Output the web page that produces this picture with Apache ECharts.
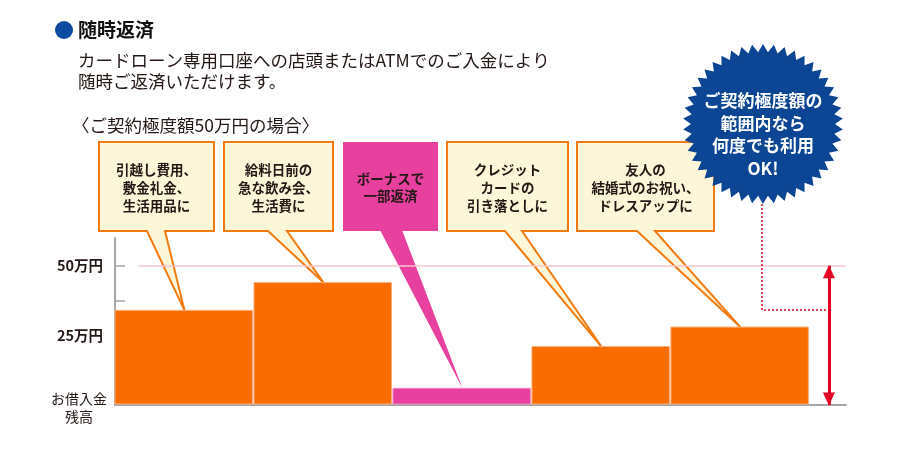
<!DOCTYPE html>
<html>
<head>
<meta charset="utf-8">
<script src="https://cdn.jsdelivr.net/npm/echarts@6/dist/echarts.min.js"></script>
<style>
  html, body { margin: 0; padding: 0; background: #fff; }
  #main { width: 900px; height: 461px; }
</style>
</head>
<body>
<div id="main"></div>
<script>
// データ
const uses = [
  '引越し費用、\n敷金礼金、\n生活用品に',
  '給料日前の\n急な飲み会、\n生活費に',
  'ボーナスで\n一部返済',
  'クレジット\nカードの\n引き落としに',
  '友人の\n結婚式のお祝い、\nドレスアップに'
];
const balances = [34, 44, 6, 21, 28];          // 万円
const kinds = ['borrow', 'borrow', 'repay', 'borrow', 'borrow'];
const limitValue = 50;
const labelValues = [0, 25, 50];
const labelTexts = ['お借入金\n残高', '25万円', '50万円'];
const tickValues = [12.5, 25, 37.5, 50];
const badgeLines = ['ご契約極度額の', '範囲内なら', '何度でも利用', 'OK!'];

const FONT = '"Noto Sans CJK JP", "Noto Sans", sans-serif';
const ORANGE = '#f86c00';
const PINK = '#e8409e';
const DARK = '#231815';

var myChart = echarts.init(document.getElementById('main'));

var option = {
  animation: false,
  grid: { left: 115, right: 54, top: 238, bottom: 56 },
  xAxis: {
    type: 'value', min: 0, max: 5.26,
    axisLine: { show: true, lineStyle: { color: '#a6a6a6', width: 2 } },
    axisTick: { show: false },
    axisLabel: { show: false },
    splitLine: { show: false }
  },
  yAxis: {
    type: 'value', min: 0, max: 60,
    axisLine: { show: true, lineStyle: { color: '#a6a6a6', width: 2 } },
    axisTick: {
      show: true, inside: true, length: 10,
      customValues: tickValues,
      lineStyle: { color: '#a6a6a6', width: 1.5 }
    },
    axisLabel: {
      customValues: labelValues,
      margin: 7,
      formatter: function (v) {
        const t = labelTexts[labelValues.indexOf(v)];
        if (v === 0) return '{s|}\n' + t.split('\n').map(s => '{n|' + s + '}').join('\n');
        return '{b|' + t + '}';
      },
      rich: {
        b: { fontFamily: FONT, fontSize: 14.5, fontWeight: 'bold', color: DARK, padding: [0, 5, 0, 0] },
        n: { fontFamily: FONT, fontSize: 14, color: DARK, width: 58, align: 'center', lineHeight: 18 },
        s: { lineHeight: 6, height: 6, width: 58 }
      }
    },
    splitLine: { show: false }
  },
  series: [{
    type: 'custom',
    data: balances.map((v, i) => [i, v]),
    renderItem: function (params, api) {
      const i = api.value(0);
      const p0 = api.coord([i, api.value(1)]);
      const p1 = api.coord([i + 1, 0]);
      return {
        type: 'rect',
        shape: { x: p0[0], y: p0[1], width: p1[0] - p0[0] - 1.5, height: p1[1] - p0[1] - 1 },
        style: {
          fill: kinds[i] === 'repay' ? PINK : ORANGE,
          stroke: kinds[i] === 'repay' ? '#f08cc6' : '#fbb07c',
          lineWidth: 1
        }
      };
    },
    markLine: {
      silent: true,
      label: { show: false },
      data: [
        [
          { coord: [0.17, limitValue], symbol: 'none', lineStyle: { color: '#f9c3cc', width: 1.5, type: 'solid' } },
          { coord: [5.26, limitValue], symbol: 'none' }
        ],
        [
          { coord: [5.137, 0], symbol: 'triangle', symbolSize: [12, 13], symbolOffset: [0, 6], lineStyle: { color: '#e60022', width: 3, type: 'solid' } },
          { coord: [5.137, limitValue], symbol: 'triangle', symbolSize: [12, 13], symbolOffset: [0, 6] }
        ]
      ]
    }
  }]
};

myChart.setOption(option);

// 吹き出しのレイアウト
const boxes = [
  { x0: 99, x1: 214, b0: 147, b1: 165 },
  { x0: 224, x1: 333, b0: 268, b1: 287 },
  { x0: 343, x1: 438, b0: 380, b1: 402 },
  { x0: 447, x1: 568, b0: 505, b1: 522 },
  { x0: 577, x1: 714, b0: 637, b1: 655 }
];
const boxTop = 142, boxBottom = 231;

let elements = [];

// 見出し
elements.push({ type: 'circle', shape: { cx: 64, cy: 30, r: 9 }, style: { fill: '#0d4aa0' } });
elements.push({ type: 'text', x: 78, y: 30, style: { text: '随時返済', font: 'bold 19px ' + FONT, fill: '#111', textVerticalAlign: 'middle' } });
elements.push({ type: 'text', x: 78, y: 60, style: { text: 'カードローン専用口座への店頭またはATMでのご入金により', font: '17.5px ' + FONT, fill: DARK, textVerticalAlign: 'middle' } });
elements.push({ type: 'text', x: 78, y: 81, style: { text: '随時ご返済いただけます。', font: '17.5px ' + FONT, fill: DARK, textVerticalAlign: 'middle' } });
elements.push({ type: 'text', x: 72, y: 125, style: { text: '〈ご契約極度額50万円の場合〉', font: '17.5px ' + FONT, fill: DARK, textVerticalAlign: 'middle' } });

boxes.forEach(function (b, i) {
  const tip = myChart.convertToPixel({ gridIndex: 0 }, [i + 0.5, balances[i]]);
  const repay = kinds[i] === 'repay';
  if (repay) {
    elements.push({ type: 'polygon', shape: { points: [[b.b0, boxBottom - 1], [b.b1, boxBottom - 1], tip] }, style: { fill: PINK } });
    elements.push({ type: 'rect', shape: { x: b.x0, y: boxTop, width: b.x1 - b.x0, height: boxBottom - boxTop }, style: { fill: PINK } });
  } else {
    elements.push({
      type: 'polygon',
      shape: { points: [[b.x0, boxTop], [b.x1, boxTop], [b.x1, boxBottom], [b.b1, boxBottom], tip, [b.b0, boxBottom], [b.x0, boxBottom]] },
      style: { fill: '#fef6d8', stroke: '#f27a10', lineWidth: 2, lineJoin: 'miter' }
    });
  }
  elements.push({
    type: 'text', x: (b.x0 + b.x1) / 2, y: (boxTop + boxBottom) / 2 + 1,
    style: { text: uses[i], font: 'bold 13.5px ' + FONT, fill: DARK, textAlign: 'center', textVerticalAlign: 'middle', lineHeight: repay ? 17 : 18 }
  });
});

// 星形バッジ
const cx = 763, cy = 124, teeth = 46;
let star = [];
for (let k = 0; k < teeth * 2; k++) {
  const a = Math.PI * k / teeth - Math.PI / 2;
  const r = k % 2 === 0 ? 80 : 72;
  star.push([cx + r * Math.cos(a), cy + r * Math.sin(a)]);
}
elements.push({
  type: 'polyline', z: 5,
  shape: { points: [[762, 204], [762, 310], [826, 310]] },
  style: { stroke: '#e60022', lineWidth: 1.5, lineDash: [2, 2], fill: null }
});
elements.push({ type: 'polygon', z: 6, shape: { points: star }, style: { fill: '#0b4593' } });
badgeLines.forEach(function (t, k) {
  elements.push({
    type: 'text', z: 7, x: cx, y: 101 + k * 22.5,
    style: { text: t, font: 'bold 17px ' + FONT, fill: '#fff', textAlign: 'center', textVerticalAlign: 'middle' }
  });
});

myChart.setOption({ graphic: { elements: elements } });
</script>
</body>
</html>
